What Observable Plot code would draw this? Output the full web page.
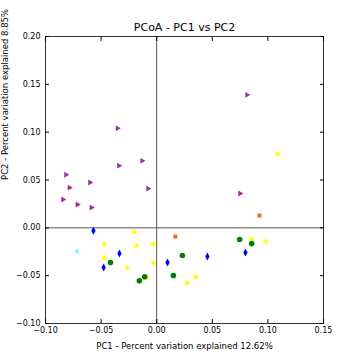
<!DOCTYPE html>
<html>
<head>
<meta charset="utf-8">
<script src="https://cdn.jsdelivr.net/npm/d3@7"></script>
<script src="https://cdn.jsdelivr.net/npm/@observablehq/plot@0.6"></script>
<style>
  body { margin: 0; background: #fff; }
  #chart svg { display: block; }
</style>
</head>
<body>
<div id="chart"></div>
<script>
const title = "PCoA - PC1 vs PC2";
const xLabel = "PC1 - Percent variation explained 12.62%";
const yLabel = "PC2 - Percent variation explained 8.85%";
const xTicks = [-0.10, -0.05, 0.00, 0.05, 0.10, 0.15];
const yTicks = [-0.10, -0.05, 0.00, 0.05, 0.10, 0.15, 0.20];

const purpleX = [-0.0353, -0.0132, -0.034, -0.0816, -0.060, -0.0785, -0.0078, -0.0843, -0.0713, -0.0587, 0.0812, 0.0749];
const purpleY = [0.104, 0.070, 0.065, 0.0554, 0.0473, 0.042, 0.041, 0.0296, 0.0243, 0.0212, 0.139, 0.0358];
const yellowX = [0.1088, 0.0854, 0.098, -0.0201, -0.047, -0.0183, -0.003, -0.047, -0.0264, -0.003, -0.009, 0.0351, 0.0276];
const yellowY = [0.0773, -0.0115, -0.0139, -0.0045, -0.017, -0.0188, -0.017, -0.0313, -0.0418, -0.0366, -0.052, -0.0512, -0.0575];
const greenX = [0.0746, 0.0854, -0.0416, -0.0108, -0.0156, 0.0231, 0.015];
const greenY = [-0.0122, -0.0164, -0.0362, -0.0512, -0.0554, -0.0289, -0.0498];
const blueX = [0.0798, -0.0569, -0.0335, -0.0477, 0.0097, 0.0456];
const blueY = [-0.0258, -0.0031, -0.0269, -0.0414, -0.0362, -0.030];
const orangeX = [0.0924, 0.0168];
const orangeY = [0.0129, -0.0091];
const cyanX = [-0.0717];
const cyanY = [-0.0248];

const pts = (xs, ys) => xs.map((x, i) => ({x, y: ys[i]}));

const thinDiamond = {
  draw(context, size) {
    const h = Math.sqrt(size) * 0.75;
    const w = h * 0.55;
    context.moveTo(0, -h);
    context.lineTo(w, 0);
    context.lineTo(0, h);
    context.lineTo(-w, 0);
    context.closePath();
  }
};

const font = "DejaVu Sans, sans-serif";

const chart = Plot.plot({
  width: 360,
  height: 360,
  marginTop: 36,
  marginBottom: 37,
  marginLeft: 45,
  marginRight: 37,
  style: {fontFamily: font, fontSize: "8px", color: "#000", background: "#fff"},
  x: {domain: [-0.1, 0.15]},
  y: {domain: [-0.1, 0.2]},
  marks: [
    Plot.ruleX([0], {stroke: "#555", strokeWidth: 1}),
    Plot.ruleY([0], {stroke: "#555", strokeWidth: 1}),
    Plot.frame({stroke: "#000", strokeWidth: 0.8}),
    Plot.axisX({anchor: "bottom", ticks: xTicks, tickSize: -4, tickPadding: 8, tickFormat: d3.format(".2f"), label: null, fontSize: 8}),
    Plot.axisX({anchor: "top", ticks: xTicks, tickSize: -4, tickFormat: () => "", label: null}),
    Plot.axisY({anchor: "left", ticks: yTicks, tickSize: -4, tickPadding: 9, tickFormat: d3.format(".2f"), label: null, fontSize: 8}),
    Plot.axisY({anchor: "right", ticks: yTicks, tickSize: -4, tickFormat: () => "", label: null}),
    Plot.dot(pts(purpleX, purpleY), {x: "x", y: "y", symbol: "triangle", rotate: 90, r: 2.2, fill: "#a0309f"}),
    Plot.dot(pts(yellowX, yellowY), {x: "x", y: "y", symbol: "triangle", r: 2.2, fill: "#ffff00"}),
    Plot.dot(pts(greenX, greenY), {x: "x", y: "y", symbol: "circle", r: 2.8, fill: "#008000"}),
    Plot.dot(pts(blueX, blueY), {x: "x", y: "y", symbol: thinDiamond, r: 3, fill: "#0000ff"}),
    Plot.dot(pts(orangeX, orangeY), {x: "x", y: "y", symbol: "square", r: 2.2, fill: "#ff6600"}),
    Plot.dot(pts(cyanX, cyanY), {x: "x", y: "y", symbol: "triangle", rotate: -90, r: 2.2, fill: "#80f0ff"}),
    Plot.text([title], {frameAnchor: "top", dy: -13, fontSize: 11, fill: "#000"}),
    Plot.text([xLabel], {frameAnchor: "bottom", dy: 25, fontSize: 8.5, fill: "#000"}),
    Plot.text([yLabel], {frameAnchor: "left", dx: -40, rotate: -90, fontSize: 8.5, fill: "#000"})
  ]
});
document.getElementById("chart").appendChild(chart);
</script>
</body>
</html>
